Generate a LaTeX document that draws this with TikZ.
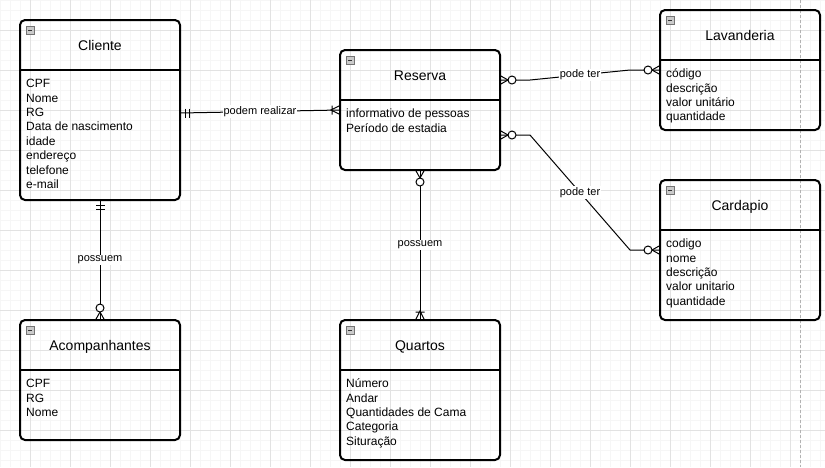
\documentclass[tikz,border=0pt]{standalone}
\usepackage{fontspec}
\setmainfont{Liberation Sans}
\usetikzlibrary{positioning}
\definecolor{minorgrid}{HTML}{F6F6F6}
\definecolor{majorgrid}{HTML}{E2E2E2}
\definecolor{iconfill}{HTML}{CACACA}
\tikzset{
  entity/.style 2 args={draw, line width=2pt, rounded corners=5pt, minimum width=#1, minimum height=#2, inner sep=0pt, outer sep=0pt},
  title/.style={anchor=base, inner sep=0pt, font=\fontsize{14pt}{16.8pt}\selectfont},
  attrs/.style={anchor=north west, align=left, inner sep=0pt, font=\fontsize{12pt}{14.4pt}\selectfont},
  lbl/.style={fill=white, inner sep=1pt, font=\fontsize{11pt}{13.2pt}\selectfont},
  minusbox/.style={draw=black!55, fill=iconfill, minimum size=8pt, inner sep=0pt, line width=0.8pt,
    path picture={\draw[line width=1pt, black!80] ([xshift=1.8pt]path picture bounding box.west) -- ([xshift=-1.8pt]path picture bounding box.east);}},
  rel/.style={line width=1pt},
  pageline/.style={black!30, line width=0.7pt, dash pattern=on 3pt off 2pt},
  onlyone/.pic={\draw[rel] (5,-4.5) -- (5,4.5) (9,-4.5) -- (9,4.5);},
  zeromany/.pic={\draw[rel] (0,-4.5) -- (8,0) -- (0,4.5); \draw[rel, fill=white] (12,0) circle (4);},
  onemany/.pic={\draw[rel] (0,-4.5) -- (9,0) -- (0,4.5) (8,-4.5) -- (8,4.5);}
}
\begin{document}
\begin{tikzpicture}[x=1pt, y=-1pt]
  \useasboundingbox (0,0) rectangle (825,467);
  % grid
  \foreach \x in {0,10,...,820} \draw[minorgrid, line width=0.6pt] (\x,0) -- (\x,467);
  \foreach \y in {0,10,...,460} \draw[minorgrid, line width=0.6pt] (0,\y) -- (825,\y);
  \foreach \x in {30,70,...,790} \draw[majorgrid, line width=0.7pt] (\x,0) -- (\x,467);
  \foreach \y in {30,70,...,430} \draw[majorgrid, line width=0.7pt] (0,\y) -- (825,\y);
  \draw[pageline] (800,0) -- (800,467);

  % entities
  \node[entity={160pt}{180pt}] (cliente) at (100,110) {};
  \node[entity={160pt}{120pt}] (reserva) at (420,110) {};
  \node[entity={160pt}{120pt}] (lavanderia) at (740,70) {};
  \node[entity={160pt}{140pt}] (cardapio) at (740,250) {};
  \node[entity={160pt}{120pt}] (acompanhantes) at (100,380) {};
  \node[entity={160pt}{140pt}] (quartos) at (420,390) {};

  \foreach \e in {cliente,reserva,lavanderia,cardapio,acompanhantes,quartos} {
    \draw[line width=2pt] ([yshift=-50pt]\e.north west) -- ([yshift=-50pt]\e.north east);
    \node[minusbox] (\e-icon) at ([xshift=10pt,yshift=-10pt]\e.north west) {};
  }

  \node[title] (cliente-t) at ([yshift=-30pt]cliente.north) {Cliente};
  \node[attrs] (cliente-a) at ([xshift=6pt,yshift=-57.4pt]cliente.north west)
    {\strut CPF\\Nome\\RG\\Data de nascimento\\idade\\endereço\\telefone\\e-mail};
  \node[title] (reserva-t) at ([yshift=-30pt]reserva.north) {Reserva};
  \node[attrs] (reserva-a) at ([xshift=6pt,yshift=-57.4pt]reserva.north west)
    {\strut informativo de pessoas\\Período de estadia};
  \node[title] (lavanderia-t) at ([yshift=-30pt]lavanderia.north) {Lavanderia};
  \node[attrs] (lavanderia-a) at ([xshift=6pt,yshift=-57.4pt]lavanderia.north west)
    {\strut código\\descrição\\valor unitário\\quantidade};
  \node[title] (cardapio-t) at ([yshift=-30pt]cardapio.north) {Cardapio};
  \node[attrs] (cardapio-a) at ([xshift=6pt,yshift=-57.4pt]cardapio.north west)
    {\strut codigo\\nome\\descrição\\valor unitario\\quantidade};
  \node[title] (acompanhantes-t) at ([yshift=-30pt]acompanhantes.north) {Acompanhantes};
  \node[attrs] (acompanhantes-a) at ([xshift=6pt,yshift=-57.4pt]acompanhantes.north west)
    {\strut CPF\\RG\\Nome};
  \node[title] (quartos-t) at ([yshift=-30pt]quartos.north) {Quartos};
  \node[attrs] (quartos-a) at ([xshift=6pt,yshift=-57.4pt]quartos.north west)
    {\strut Número\\Andar\\Quantidades de Cama\\Categoria\\Situração};

  % relationships
  \draw[rel] ([yshift=-3pt]cliente.east) -- node[lbl] (lbl-realizar) {podem realizar} (reserva.west);
  \draw[rel] ([yshift=30pt]reserva.east) -- ++(30,0)
    -- node[lbl] (lbl-lav) {pode ter} ([xshift=-30pt]lavanderia.west) -- (lavanderia.west);
  \draw[rel] ([yshift=-25pt]reserva.east) -- ++(30,0)
    -- node[lbl] (lbl-card) {pode ter} ([xshift=-30pt]cardapio.west) -- (cardapio.west);
  \draw[rel] (reserva.south) -- node[lbl] (lbl-quartos) {possuem} (quartos.north);
  \draw[rel] (cliente.south) -- node[lbl] (lbl-acomp) {possuem} (acompanhantes.north);

  \pic at ([yshift=-3pt]cliente.east) {onlyone};
  \pic[rotate=180] at (reserva.west) {onemany};
  \pic at ([yshift=30pt]reserva.east) {zeromany};
  \pic[rotate=180] at (lavanderia.west) {zeromany};
  \pic at ([yshift=-25pt]reserva.east) {zeromany};
  \pic[rotate=180] at (cardapio.west) {zeromany};
  \pic[rotate=-90] at (reserva.south) {zeromany};
  \pic[rotate=90] at (quartos.north) {onemany};
  \pic[rotate=-90] at (cliente.south) {onlyone};
  \pic[rotate=90] at (acompanhantes.north) {zeromany};
\end{tikzpicture}
\end{document}
